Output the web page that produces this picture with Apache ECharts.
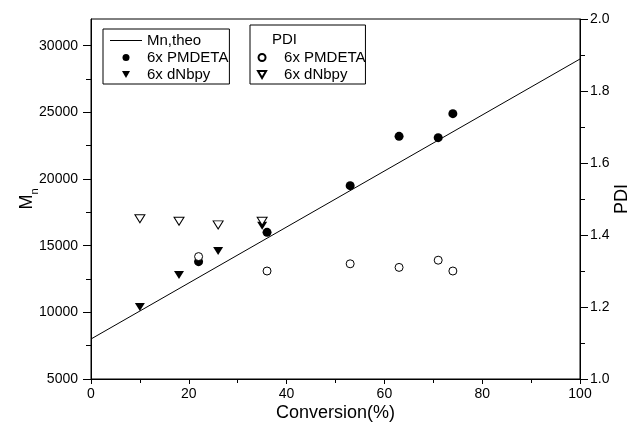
<!DOCTYPE html>
<html>
<head>
<meta charset="utf-8">
<script src="https://cdn.jsdelivr.net/npm/echarts@6/dist/echarts.min.js"></script>
<style>
html,body{margin:0;padding:0;background:#fff;}
#chart{width:640px;height:437px;}
</style>
</head>
<body>
<div id="chart"></div>
<script>
// ---- data ----
var theoConversion = [0, 100];
var theoMn = [8000, 29000];

var convPMDETA = [22, 36, 53, 63, 71, 74];
var mnPMDETA = [13800, 16000, 19500, 23200, 23100, 24900];
var pdiPMDETA = [1.34, 1.30, 1.32, 1.31, 1.33, 1.30];

var convDNbpy = [10, 18, 26, 35];
var mnDNbpy = [10400, 12800, 14600, 16500];
var pdiDNbpy = [1.445, 1.438, 1.428, 1.438];

var mnTicks = [5000, 10000, 15000, 20000, 25000, 30000];
var mnMinorTicks = [7500, 12500, 17500, 22500, 27500];

var legendLabels = {
  'Mn,theo': 'Mn,theo',
  'Mn PMDETA': '6x PMDETA',
  'Mn dNbpy': '6x dNbpy',
  'PDI PMDETA': '6x PMDETA',
  'PDI dNbpy': '6x dNbpy'
};

function zip(a, b) { return a.map(function (v, i) { return [v, b[i]]; }); }

var FONT = 'Liberation Sans, Arial, sans-serif';
var TRI = 'path://M0,0L10,0L5,8.66Z';
var LINE_ICON = 'path://M0,0L32,0L32,1L0,1Z';

var chart = echarts.init(document.getElementById('chart'), null, {renderer: 'canvas'});
var option = {
  animation: false,
  backgroundColor: '#fff',
  textStyle: {fontFamily: FONT, color: '#000'},
  grid: {left: 91, right: 60, top: 19, bottom: 58, show: true, borderColor: '#000', borderWidth: 1,
    backgroundColor: 'transparent', outerBoundsMode: 'none', containLabel: false},
  legend: [{
    orient: 'vertical', left: 103, top: 29,
    padding: [4, 1, 2, 7], itemGap: 2, itemWidth: 32, itemHeight: 7,
    borderColor: '#000', borderWidth: 1,
    textStyle: {fontSize: 15, fontFamily: FONT, color: '#000'},
    data: [{name: 'Mn,theo', icon: LINE_ICON}, 'Mn PMDETA', 'Mn dNbpy'],
    formatter: function (n) { return legendLabels[n]; }
  }, {
    orient: 'vertical', left: 250, top: 25,
    padding: [25, 0, 2, 7], itemGap: 2, itemWidth: 34, itemHeight: 7,
    borderColor: '#000', borderWidth: 1,
    textStyle: {fontSize: 15, fontFamily: FONT, color: '#000'},
    data: ['PDI PMDETA', 'PDI dNbpy'],
    formatter: function (n) { return legendLabels[n]; }
  }],
  graphic: [{
    type: 'text', left: 272, top: 32, z: 100,
    style: {text: 'PDI', font: '15px ' + FONT, fill: '#000'}
  }],
  xAxis: {
    type: 'value', min: 0, max: 100, interval: 20,
    name: 'Conversion(%)', nameLocation: 'middle', nameGap: 25, nameMoveOverlap: false,
    nameTextStyle: {fontSize: 18, fontFamily: FONT, color: '#000'},
    axisLine: {lineStyle: {color: '#000', width: 1}},
    axisTick: {length: 5, lineStyle: {color: '#000'}},
    minorTick: {show: true, splitNumber: 2, length: 4, lineStyle: {color: '#000'}},
    axisLabel: {fontSize: 14, fontFamily: FONT, color: '#000', margin: 8},
    splitLine: {show: false}
  },
  yAxis: [{
    type: 'value', position: 'left', min: 5000, max: 32000, interval: 5000,
    name: '{m|M}{s|n}', nameLocation: 'middle', nameGap: 51, nameRotate: 90, nameMoveOverlap: false,
    nameTextStyle: {
      color: '#000',
      rich: {
        m: {fontSize: 18, fontFamily: FONT, lineHeight: 22, verticalAlign: 'top', color: '#000'},
        s: {fontSize: 11, fontFamily: FONT, lineHeight: 8, verticalAlign: 'bottom', color: '#000'}
      }
    },
    axisLine: {show: true, lineStyle: {color: '#000', width: 1}},
    axisTick: {show: true, length: 8, lineStyle: {color: '#000'}, customValues: mnTicks},
    axisLabel: {fontSize: 14, fontFamily: FONT, color: '#000', margin: 13, customValues: mnTicks,
      formatter: function (v) { return String(v); }},
    splitLine: {show: false}
  }, {
    type: 'value', position: 'right', min: 1.0, max: 2.0, interval: 0.2,
    name: 'PDI', nameLocation: 'middle', nameGap: 33, nameRotate: 90, nameMoveOverlap: false,
    nameTextStyle: {fontSize: 18, fontFamily: FONT, color: '#000'},
    axisLine: {show: true, lineStyle: {color: '#000', width: 1}},
    axisTick: {show: true, length: 8, lineStyle: {color: '#000'}},
    minorTick: {show: true, splitNumber: 2, length: 5, lineStyle: {color: '#000'}},
    axisLabel: {fontSize: 14, fontFamily: FONT, color: '#000', margin: 10,
      formatter: function (v) { return v.toFixed(1); }},
    splitLine: {show: false}
  }, {
    type: 'value', position: 'left', min: 5000, max: 32000, interval: 2500,
    axisLine: {show: false},
    axisTick: {show: true, length: 5, lineStyle: {color: '#000'}, customValues: mnMinorTicks},
    axisLabel: {show: false},
    splitLine: {show: false}
  }],
  series: [{
    name: 'Mn,theo', type: 'line', yAxisIndex: 0,
    data: zip(theoConversion, theoMn),
    symbol: 'none', lineStyle: {color: '#000', width: 1}, itemStyle: {color: '#000'}
  }, {
    name: 'Mn PMDETA', type: 'scatter', yAxisIndex: 0,
    data: zip(convPMDETA, mnPMDETA),
    symbol: 'circle', symbolSize: 9, itemStyle: {color: '#000', opacity: 1}
  }, {
    name: 'Mn dNbpy', type: 'scatter', yAxisIndex: 0,
    data: zip(convDNbpy, mnDNbpy),
    symbol: TRI, symbolSize: [10, 8], symbolKeepAspect: false, itemStyle: {color: '#000', opacity: 1}
  }, {
    name: 'PDI PMDETA', type: 'scatter', yAxisIndex: 1,
    data: zip(convPMDETA, pdiPMDETA),
    symbol: 'circle', symbolSize: 8, itemStyle: {color: '#fff', borderColor: '#000', borderWidth: 1, opacity: 1}
  }, {
    name: 'PDI dNbpy', type: 'scatter', yAxisIndex: 1,
    data: zip(convDNbpy, pdiDNbpy),
    symbol: TRI, symbolSize: [10, 8], symbolKeepAspect: false, itemStyle: {color: '#fff', borderColor: '#000', borderWidth: 1, opacity: 1}
  }]
};
chart.setOption(option);
</script>
</body>
</html>
